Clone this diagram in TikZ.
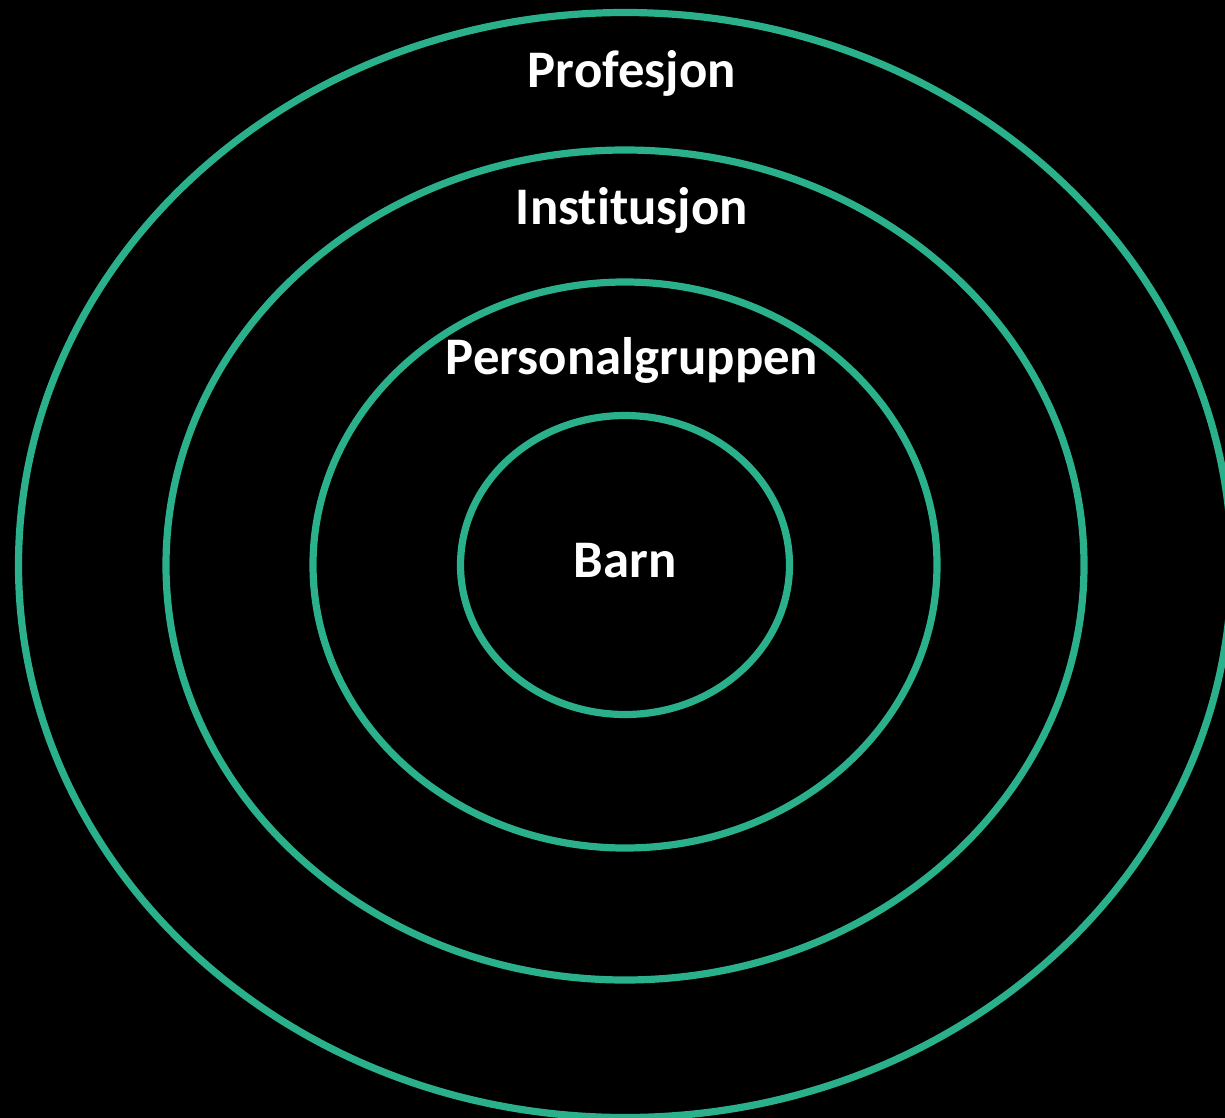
\documentclass[tikz,border=0pt]{standalone}
\usepackage{fontspec}
\setmainfont[Ligatures=NoCommon]{Carlito}
\usepackage{tikz}
\definecolor{ringgreen}{RGB}{43,176,140}
\tikzset{
  ring/.style={draw=ringgreen,line width=3.6pt},
  lvl/.style={text=white,font=\fontsize{26.4}{31}\selectfont\bfseries,anchor=base,inner sep=0pt},
}
\begin{document}
\begin{tikzpicture}[x=0.5pt,y=-0.5pt]
 \fill[black] (0,0) rectangle (1225,1118);
 \clip (0,0) rectangle (1225,1118);
 \coordinate (c) at (625,565);
 \draw[ring] (c) ellipse [x radius=606.5,y radius=552.5];
 \draw[ring] (c) ellipse [x radius=459,y radius=415];
 \draw[ring] (c) ellipse [x radius=312,y radius=283];
 \draw[ring] (c) ellipse [x radius=164.5,y radius=149.5];
 \node[lvl] (prof) at (632,88) {Profesjon};
 \node[lvl] (inst) at (632,224.5) {Institusjon};
 \node[lvl] (pers) at (632,374) {Personalgruppen};
 \node[lvl] (barn) at (625,577) {Barn};
\end{tikzpicture}
\end{document}
